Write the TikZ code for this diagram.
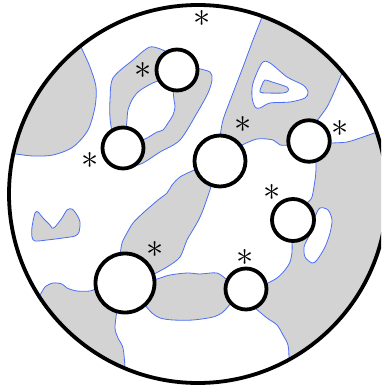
\documentclass[tikz,border=0pt]{standalone}
\usepackage{tikz}
\definecolor{zonegray}{RGB}{211,211,211}
\definecolor{edgeblue}{RGB}{75,110,245}

\begin{document}
\begin{tikzpicture}[x=1pt,y=-1pt,
 zone/.style={fill=zonegray,draw=edgeblue,line width=0.8pt},
 gap/.style={fill=white,draw=edgeblue,line width=0.8pt},
 pore/.style={circle,draw,fill=white,line width=3.8pt,inner sep=0pt},
 astx/.style={font=\fontsize{24}{24}\selectfont,inner sep=0pt,scale=1.38}]
\clip (0,0) rectangle (381,390);
\coordinate (O) at (198,194);
\begin{scope}
 \clip (O) circle[radius=189];
 \draw[zone] plot[smooth] coordinates {(76,35) (82,49) (90,67) (96,87) (95,107) (88,130) (73,147) (53,155) (33,156) (16,154) (0,152)} -- (0,0) -- cycle;
 \draw[zone] plot[smooth] coordinates {(165,51) (150,47) (133,60) (113,78) (110,100) (110,118) (112,132)} -- (123,148)
  -- plot[smooth] coordinates {(131,167) (143,163) (160,152) (180,140) (197,113) (208,93) (212,80) (210,72) (196,68)} -- (177,70) -- cycle;
 \draw[gap] plot[smooth] coordinates {(163,80) (155,82) (147,86) (138,92) (132,100) (128,110) (127,120) (126,130)} -- (123,148)
  -- plot[smooth] coordinates {(140,141) (147,138) (152,135) (157,132) (163,130) (168,123) (173,115) (175,107) (174,100) (173,90)} -- (177,70) -- cycle;
 \draw[zone] plot[smooth] coordinates {(268,0) (262,17) (253,40) (243,67) (233,93) (223,120) (220,138)} -- (220,161)
  -- plot[smooth] coordinates {(240,146) (257,139) (273,140) (280,145) (291,145)} -- (309,141)
  -- plot[smooth] coordinates {(316,122) (327,107) (335,90) (342,73) (350,52)} -- (350,0) -- cycle;
 \draw[gap] plot[smooth cycle] coordinates {(262,63) (270,63) (287,77) (303,85) (308,92) (305,98) (290,102) (270,103) (260,108) (255,107) (252,97) (253,83)};
 \draw[zone] plot[smooth cycle] coordinates {(265,80) (272,82) (287,87) (288,91) (283,93) (267,93) (260,92) (262,85)};
 \draw[zone] plot[smooth] coordinates {(395,125) (377,132) (363,137) (347,142) (330,143)} -- (309,141)
  -- plot[smooth] coordinates {(316,160) (316,170) (315,180) (312,197) (308,202)} -- (293,220)
  -- plot[smooth] coordinates {(292,241) (292,252) (290,262) (285,270) (277,278) (266,284)} -- (246,289)
  -- plot[smooth] coordinates {(255,308) (267,318) (277,325) (283,335) (288,345) (289,358) (290,395)} -- (400,395) -- (400,125) -- cycle;
 \draw[gap] plot[smooth cycle] coordinates {(320,208) (328,210) (332,220) (330,233) (325,247) (317,260) (312,263) (305,257) (304,247) (307,240) (312,230) (315,217)};
 \draw[zone] (220,161) -- plot[smooth] coordinates {(200,168) (192,171) (180,177) (172,185) (167,193) (158,200) (143,213) (133,223) (127,233) (122,243) (120,256)} -- (125,283)
  -- plot[smooth] coordinates {(152,275) (167,267) (180,257) (187,240) (197,223) (203,210) (212,184)} -- cycle;
 \draw[zone] (125,283) -- plot[smooth] coordinates {(152,280) (157,279) (170,275) (187,273) (200,274) (217,273) (227,280)} -- (246,289)
  -- plot[smooth] coordinates {(231,303) (223,312) (213,317) (193,320) (173,320) (160,318) (152,313) (144,304)} -- cycle;
 \draw[zone] plot[smooth] coordinates {(30,305) (40,295) (45,287) (53,283) (62,284) (67,288) (77,291) (90,291) (97,288)} -- (125,283)
  -- plot[smooth] coordinates {(117,310) (115,328) (118,338) (123,348) (125,368) (126,395)} -- (0,395) -- (0,305) -- cycle;
 \draw[zone] plot[smooth cycle] coordinates {(35,213) (38,212) (43,218) (50,225) (52,228) (55,227) (62,218) (67,210) (72,209) (77,215) (80,222) (79,232) (75,236) (63,238) (47,240) (35,241) (32,237) (32,227)};
\end{scope}
\node[pore,minimum size=41] (p1) at (177,70) {};
\node[pore,minimum size=41] (p2) at (123,148) {};
\node[pore,minimum size=51] (p3) at (220,161) {};
\node[pore,minimum size=41.5] (p4) at (309,141) {};
\node[pore,minimum size=42] (p5) at (293,220) {};
\node[pore,minimum size=59] (p6) at (125,283) {};
\node[pore,minimum size=41] (p7) at (246,289) {};
\draw[line width=3.8pt] (O) circle[radius=189];
\node[astx] (s1) at (143,71) {$\ast$};
\node[astx] (s2) at (90,161) {$\ast$};
\node[astx] (s3) at (243,125) {$\ast$};
\node[astx] (s4) at (340,129) {$\ast$};
\node[astx] (s5) at (272,193) {$\ast$};
\node[astx] (s6) at (155,250) {$\ast$};
\node[astx] (s7) at (245,258) {$\ast$};
\node[astx] (s8) at (202,19) {$\ast$};
\end{tikzpicture}
\end{document}
